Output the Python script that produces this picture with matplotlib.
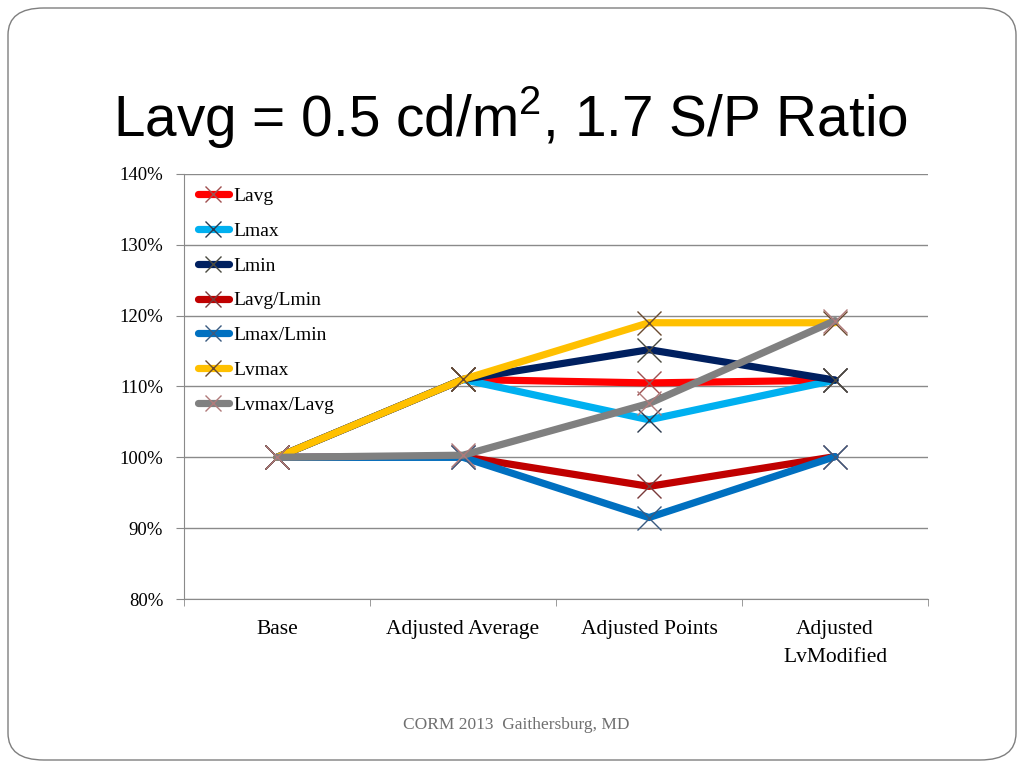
import matplotlib.pyplot as plt
from matplotlib.patches import FancyBboxPatch

# chart data (values in percent)
categories = ['Base', 'Adjusted Average', 'Adjusted Points', 'Adjusted\nLvModified']
series_names = ['Lavg', 'Lmax', 'Lmin', 'Lavg/Lmin', 'Lmax/Lmin', 'Lvmax', 'Lvmax/Lavg']
lavg = [100, 111.0, 110.5, 110.9]
lmax = [100, 111.0, 105.3, 110.9]
lmin = [100, 111.0, 115.2, 110.9]
lavg_lmin = [100, 100.1, 95.9, 100.1]
lmax_lmin = [100, 100.0, 91.5, 100.1]
lvmax = [100, 111.0, 119.0, 119.0]
lvmax_lavg = [100, 100.3, 107.6, 119.3]

values = [lavg, lmax, lmin, lavg_lmin, lmax_lmin, lvmax, lvmax_lavg]
line_colors = ['#ff0000', '#00b0f0', '#002060', '#c00000', '#0070c0', '#ffc000', '#808080']
marker_colors = ['#a05050', '#2b3a4f', '#4a4a40', '#7a3a3a', '#3a5a80', '#6a4a30', '#b07a7a']

serif = ['Liberation Serif', 'DejaVu Serif']
sans = ['Liberation Sans', 'DejaVu Sans']

plt.rcParams['mathtext.fontset'] = 'custom'
plt.rcParams['mathtext.rm'] = 'Liberation Sans'

fig = plt.figure(figsize=(10.24, 7.68), dpi=100)

# slide frame
frame = FancyBboxPatch((8 / 1024, 8 / 768), 1008 / 1024, 752 / 768,
                       boxstyle='round,pad=0,rounding_size=0.035',
                       transform=fig.transFigure, fill=False,
                       edgecolor='#7f7f7f', linewidth=1.0)
fig.patches.append(frame)

fig.text(113 / 1024, 1 - 118 / 768, r'Lavg = 0.5 cd/m$^{\mathrm{2}}$, 1.7 S/P Ratio',
         family=sans, fontsize=40.9, va='center', ha='left', color='black')

ax = fig.add_axes([184 / 1024, 1 - 599 / 768, 744 / 1024, 425 / 768])
x = range(len(categories))
for name, vals, lc, mc in zip(series_names, values, line_colors, marker_colors):
    ax.plot(x, vals, color=lc, lw=5.2, solid_capstyle='round', solid_joinstyle='round',
            marker='x', markersize=17, markeredgewidth=1.0, markeredgecolor=mc,
            label=name)

ax.set_xlim(-0.5, 3.5)
ax.set_ylim(80, 140)
ax.set_yticks(range(80, 141, 10))
ax.set_yticklabels([f'{v}%' for v in range(80, 141, 10)], family=serif, fontsize=13.5)
ax.yaxis.grid(True, color='#8a8a8a', lw=1.0)
ax.set_axisbelow(True)

ax.set_xticks(list(x))
ax.set_xticklabels(categories, family=serif, fontsize=15.5, linespacing=1.65)
ax.set_xticks([-0.5, 0.5, 1.5, 2.5, 3.5], minor=True)
ax.tick_params(axis='x', which='major', length=0, pad=15)
ax.tick_params(axis='x', which='minor', length=5, color='#8a8a8a')
ax.tick_params(axis='y', length=6, color='#8a8a8a', pad=9)

for side in ['top', 'right']:
    ax.spines[side].set_visible(False)
for side in ['left', 'bottom']:
    ax.spines[side].set_color('#8a8a8a')

ax.legend(loc='upper left', frameon=False, prop={'family': serif, 'size': 14},
          handlelength=1.6, handletextpad=0.25, labelspacing=0.88,
          borderaxespad=0.3, bbox_to_anchor=(0.0, 1.0), markerscale=0.7)

fig.text(516 / 1024, 1 - 725 / 768, 'CORM 2013  Gaithersburg, MD',
         family=serif, fontsize=12.5, color='#6f6f6f', ha='center', va='center')

fig.savefig('out.png', dpi=100)
